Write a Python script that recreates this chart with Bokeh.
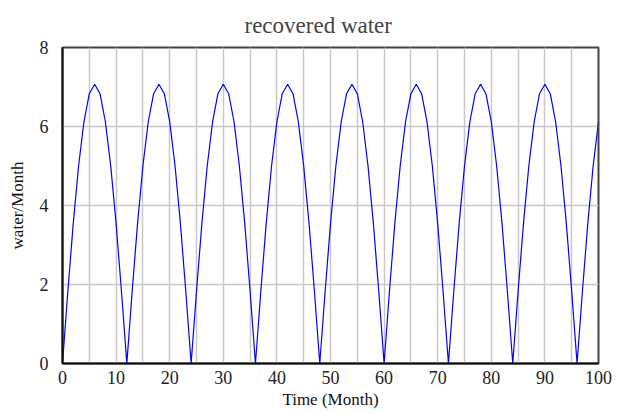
from bokeh.plotting import figure
from bokeh.models import Range1d, FixedTicker
from bokeh.embed import file_html
from bokeh.resources import INLINE

# Simulation output: recovered water per month, one value per month
months = list(range(0, 101))
recovered_water = [
    0.00, 1.83, 3.54, 5.00, 6.12, 6.83, 7.07, 6.83, 6.12, 5.00, 3.54, 1.83,
    0.00, 1.83, 3.54, 5.00, 6.12, 6.83, 7.07, 6.83, 6.12, 5.00, 3.54, 1.83,
    0.00, 1.83, 3.54, 5.00, 6.12, 6.83, 7.07, 6.83, 6.12, 5.00, 3.54, 1.83,
    0.00, 1.83, 3.54, 5.00, 6.12, 6.83, 7.07, 6.83, 6.12, 5.00, 3.54, 1.83,
    0.00, 1.83, 3.54, 5.00, 6.12, 6.83, 7.07, 6.83, 6.12, 5.00, 3.54, 1.83,
    0.00, 1.83, 3.54, 5.00, 6.12, 6.83, 7.07, 6.83, 6.12, 5.00, 3.54, 1.83,
    0.00, 1.83, 3.54, 5.00, 6.12, 6.83, 7.07, 6.83, 6.12, 5.00, 3.54, 1.83,
    0.00, 1.83, 3.54, 5.00, 6.12, 6.83, 7.07, 6.83, 6.12, 5.00, 3.54, 1.83,
    0.00, 1.83, 3.54, 5.00, 6.12,
]

x_ticks = [0, 10, 20, 30, 40, 50, 60, 70, 80, 90, 100]
x_grid = [0, 5, 10, 15, 20, 25, 30, 35, 40, 45, 50, 55, 60, 65, 70, 75, 80, 85, 90, 95, 100]
y_ticks = [0, 2, 4, 6, 8]

FONT = "Liberation Serif"

p = figure(
    width=621, height=413,
    x_range=Range1d(0, 100), y_range=Range1d(0, 8),
    output_backend="svg", toolbar_location=None,
    title="recovered water",
    min_border_left=62, min_border_right=23,
    min_border_top=46, min_border_bottom=50,
)

p.title.text_font = FONT
p.title.text_font_size = "23px"
p.title.text_font_style = "normal"
p.title.align = "left"
p.title.offset = 182
p.title.standoff = 20

p.line(months, recovered_water, line_color="#0000ff", line_width=1.2)

p.xaxis.ticker = FixedTicker(ticks=x_ticks)
p.yaxis.ticker = FixedTicker(ticks=y_ticks)
p.xgrid.ticker = FixedTicker(ticks=x_grid)
p.ygrid.ticker = FixedTicker(ticks=y_ticks)

for g in (p.xgrid, p.ygrid):
    g.grid_line_color = "#c8c8c8"
    g.grid_line_width = 1.5

p.xaxis.axis_label = "Time (Month)"
p.yaxis.axis_label = "water/Month"

for ax in (p.xaxis, p.yaxis):
    ax.axis_label_text_font = FONT
    ax.axis_label_text_font_style = "normal"
    ax.axis_label_text_font_size = "17px"
    ax.major_label_text_font = FONT
    ax.major_label_text_font_size = "18px"
    ax.major_label_text_color = "#222222"
    ax.axis_label_text_color = "#111111"
    ax.major_tick_out = 0
    ax.major_tick_in = 0
    ax.minor_tick_out = 0
    ax.minor_tick_in = 0
    ax.axis_line_color = "#111111"
    ax.axis_line_width = 2

p.xaxis.major_label_standoff = 7
p.xaxis.axis_label_standoff = 3
p.yaxis.major_label_standoff = 14
p.yaxis.axis_label_standoff = 10

p.outline_line_color = "#444444"
p.outline_line_width = 2
p.background_fill_color = "white"
p.border_fill_color = "white"

open("out.html", "w").write(file_html(p, INLINE))
